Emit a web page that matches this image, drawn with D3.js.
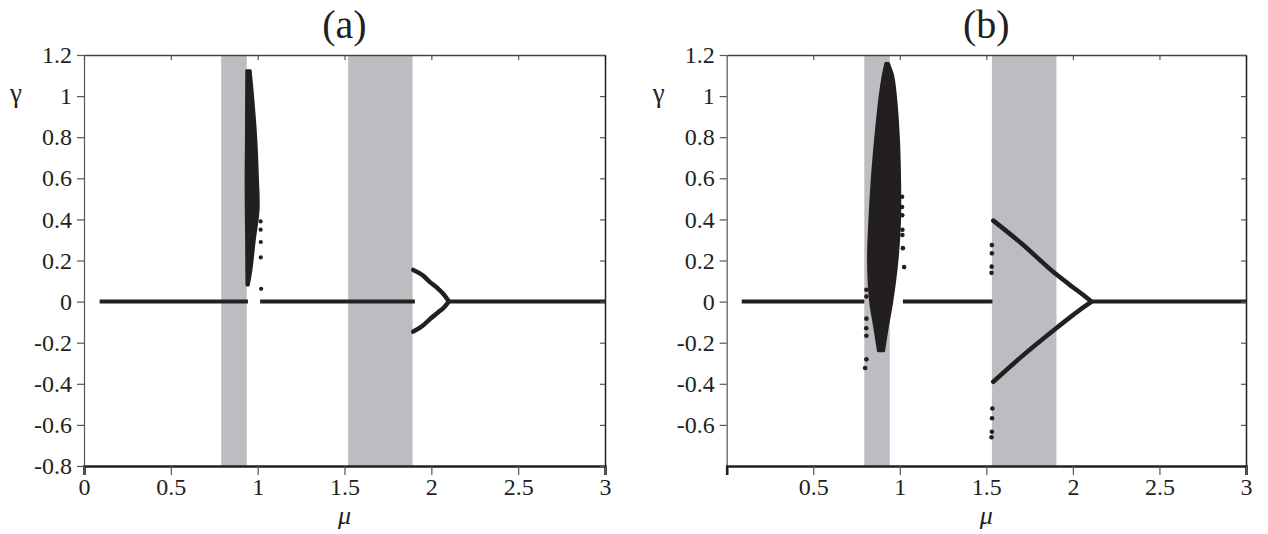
<!DOCTYPE html>
<html>
<head>
<meta charset="utf-8">
<script src="https://cdn.jsdelivr.net/npm/d3@7"></script>
<style>
body { margin: 0; background: #fff; }
svg text { font-family: "Liberation Serif", "Times New Roman", serif; }
</style>
</head>
<body>
<svg id="chart" width="1268" height="534"></svg>
<script>
// tick labels
var muTicksA = [0, 0.5, 1, 1.5, 2, 2.5, 3];
var muTicksB = [0.5, 1, 1.5, 2, 2.5, 3];
var gammaTicksA = [-0.8, -0.6, -0.4, -0.2, 0, 0.2, 0.4, 0.6, 0.8, 1, 1.2];
var gammaTicksB = [-0.6, -0.4, -0.2, 0, 0.2, 0.4, 0.6, 0.8, 1, 1.2];

// shaded mu intervals
var bandsA = [[0.79, 0.937], [1.521, 1.892]];
var bandsB = [[0.795, 0.942], [1.532, 1.905]];

// gamma = 0 branch, [mu from, mu to]
var zeroA = [[0.09, 0.944], [1.014, 1.905], [2.098, 3.0]];
var zeroB = [[0.087, 0.795], [1.018, 1.535], [2.104, 3.0]];

// pitchfork branches [mu, gamma]
var upperA = [[1.896, 0.154], [1.95, 0.128], [1.992, 0.095], [2.04, 0.062], [2.075, 0.032], [2.098, 0.004]];
var lowerA = [[1.896, -0.146], [1.95, -0.118], [1.992, -0.085], [2.04, -0.052], [2.075, -0.026], [2.098, -0.002]];
var upperB = [[1.54, 0.394], [1.7, 0.285], [1.9, 0.135], [2.0, 0.07], [2.06, 0.032], [2.104, 0.002]];
var lowerB = [[1.54, -0.39], [1.7, -0.27], [1.9, -0.132], [2.0, -0.066], [2.06, -0.028], [2.104, -0.002]];

// outline of the chaotic cloud: [gamma, lowest mu, highest mu]
var cloudA = [[1.125, 0.936, 0.958], [1.0, 0.935, 0.972], [0.8, 0.934, 0.99], [0.6, 0.932, 1.0],
  [0.45, 0.933, 1.004], [0.3, 0.935, 0.982], [0.15, 0.936, 0.962], [0.08, 0.937, 0.947]];
var cloudB = [[1.16, 0.918, 0.935], [1.1, 0.903, 0.96], [1.0, 0.885, 0.976], [0.8, 0.86, 0.993],
  [0.6, 0.84, 1.0], [0.4, 0.826, 1.0], [0.2, 0.818, 0.985], [0.0, 0.83, 0.955],
  [-0.12, 0.853, 0.93], [-0.24, 0.875, 0.908]];

// isolated points [mu, gamma]
var dotsA = [[1.017, 0.39], [1.017, 0.35], [1.018, 0.29], [1.018, 0.215], [1.02, 0.062]];
var dotsB = [[0.807, 0.058], [0.807, 0.025], [0.807, -0.083], [0.806, -0.13], [0.807, -0.166],
  [0.807, -0.281], [0.8, -0.323],
  [1.013, 0.51], [1.013, 0.46], [1.014, 0.42], [1.015, 0.35], [1.015, 0.324], [1.018, 0.26], [1.025, 0.168],
  [1.532, 0.275], [1.532, 0.235], [1.531, 0.17], [1.53, 0.14],
  [1.535, -0.52], [1.533, -0.568], [1.532, -0.633], [1.53, -0.66]];

var ink = '#231f20';
var serif = '"Liberation Serif", "Times New Roman", serif';
var svg = d3.select('#chart');

drawPanel({left: 84, right: 605, top: 55, bottom: 466, title: '(a)',
  muTicks: muTicksA, gammaTicks: gammaTicksA, bands: bandsA, zero: zeroA,
  upper: upperA, lower: lowerA, cloud: cloudA, dots: dotsA, dotSize: 4.2});

drawPanel({left: 726.7, right: 1246, top: 55, bottom: 466, title: '(b)',
  muTicks: muTicksB, gammaTicks: gammaTicksB, bands: bandsB, zero: zeroB,
  upper: upperB, lower: lowerB, cloud: cloudB, dots: dotsB, dotSize: 4.6});

function drawPanel(p)
{
	var x = d3.scaleLinear().domain([0, 3]).range([p.left, p.right]);
	var y = d3.scaleLinear().domain([-0.8, 1.2]).range([p.bottom, p.top]);
	var g = svg.append('g');

	//shaded bands
	g.selectAll('rect.band')
		.data(p.bands)
		.enter()
		.append('rect')
		.attr('class', 'band')
		.attr('x', function(d) { return x(d[0]); })
		.attr('width', function(d) { return x(d[1]) - x(d[0]); })
		.attr('y', p.top)
		.attr('height', p.bottom - p.top)
		.attr('fill', '#bcbdc0');

	//gamma = 0 segments
	g.selectAll('line.zero')
		.data(p.zero)
		.enter()
		.append('line')
		.attr('x1', function(d) { return x(d[0]); })
		.attr('x2', function(d) { return x(d[1]); })
		.attr('y1', y(0))
		.attr('y2', y(0))
		.attr('stroke', ink)
		.attr('stroke-width', 4);

	//pitchfork
	var line = d3.line()
		.x(function(d) { return x(d[0]); })
		.y(function(d) { return y(d[1]); })
		.curve(d3.curveMonotoneX);
	[p.upper, p.lower].forEach(function(branch)
	{
		g.append('path')
			.attr('d', line(branch))
			.attr('fill', 'none')
			.attr('stroke', ink)
			.attr('stroke-width', 4.5)
			.attr('stroke-linecap', 'round');
	});

	//chaotic cloud
	var area = d3.area()
		.y(function(d) { return y(d[0]); })
		.x0(function(d) { return x(d[1]); })
		.x1(function(d) { return x(d[2]); })
		.curve(d3.curveCatmullRom);
	g.append('path')
		.attr('d', area(p.cloud))
		.attr('fill', ink)
		.attr('stroke', ink)
		.attr('stroke-width', 2.5)
		.attr('stroke-linejoin', 'round');

	//isolated points
	g.selectAll('circle.dot')
		.data(p.dots)
		.enter()
		.append('circle')
		.attr('cx', function(d) { return x(d[0]); })
		.attr('cy', function(d) { return y(d[1]); })
		.attr('r', p.dotSize / 2)
		.attr('fill', ink);

	//frame and ticks
	var fmt = function(d) { return String(d); };
	var left = g.append('g')
		.attr('transform', 'translate(' + p.left + ',0)')
		.call(d3.axisLeft(y).tickValues(p.gammaTicks).tickFormat(fmt).tickSize(7).tickPadding(5).tickSizeOuter(0));
	var bottom = g.append('g')
		.attr('transform', 'translate(0,' + p.bottom + ')')
		.call(d3.axisBottom(x).tickValues(p.muTicks).tickFormat(fmt).tickSize(9).tickPadding(3).tickSizeOuter(9));
	var top = g.append('g')
		.attr('transform', 'translate(0,' + p.top + ')')
		.call(d3.axisTop(x).tickValues(p.muTicks).tickFormat('').tickSize(-5).tickSizeOuter(0));
	var right = g.append('g')
		.attr('transform', 'translate(' + p.right + ',0)')
		.call(d3.axisRight(y).tickValues(p.gammaTicks).tickFormat('').tickSize(-5).tickSizeOuter(0));

	[left, bottom, top, right].forEach(function(a)
	{
		a.attr('font-size', 24).attr('font-family', null);
		a.selectAll('text')
			.attr('fill', ink)
			.style('font-family', serif)
			.style('font-size', '24px');
		a.selectAll('.tick line').attr('stroke', '#555').attr('stroke-width', 1.2);
	});
	left.select('.domain').attr('stroke', '#555').attr('stroke-width', 1.2);
	top.select('.domain').attr('stroke', '#444').attr('stroke-width', 1.3);
	right.select('.domain').attr('stroke', ink).attr('stroke-width', 1.5);
	bottom.select('.domain').attr('stroke', ink).attr('stroke-width', 2.6);

	//labels
	var cx = (p.left + p.right) / 2;
	svg.append('text')
		.attr('x', cx)
		.attr('y', 38)
		.attr('text-anchor', 'middle')
		.attr('font-size', 40)
		.attr('fill', ink)
		.text(p.title);
	svg.append('text')
		.attr('x', cx)
		.attr('y', 524)
		.attr('text-anchor', 'middle')
		.attr('font-size', 26)
		.attr('font-style', 'italic')
		.attr('fill', ink)
		.text('μ');
	svg.append('text')
		.attr('x', p.left - 68)
		.attr('y', 102)
		.attr('text-anchor', 'middle')
		.attr('font-size', 27)
		.attr('fill', ink)
		.text('γ');
}
</script>
</body>
</html>
